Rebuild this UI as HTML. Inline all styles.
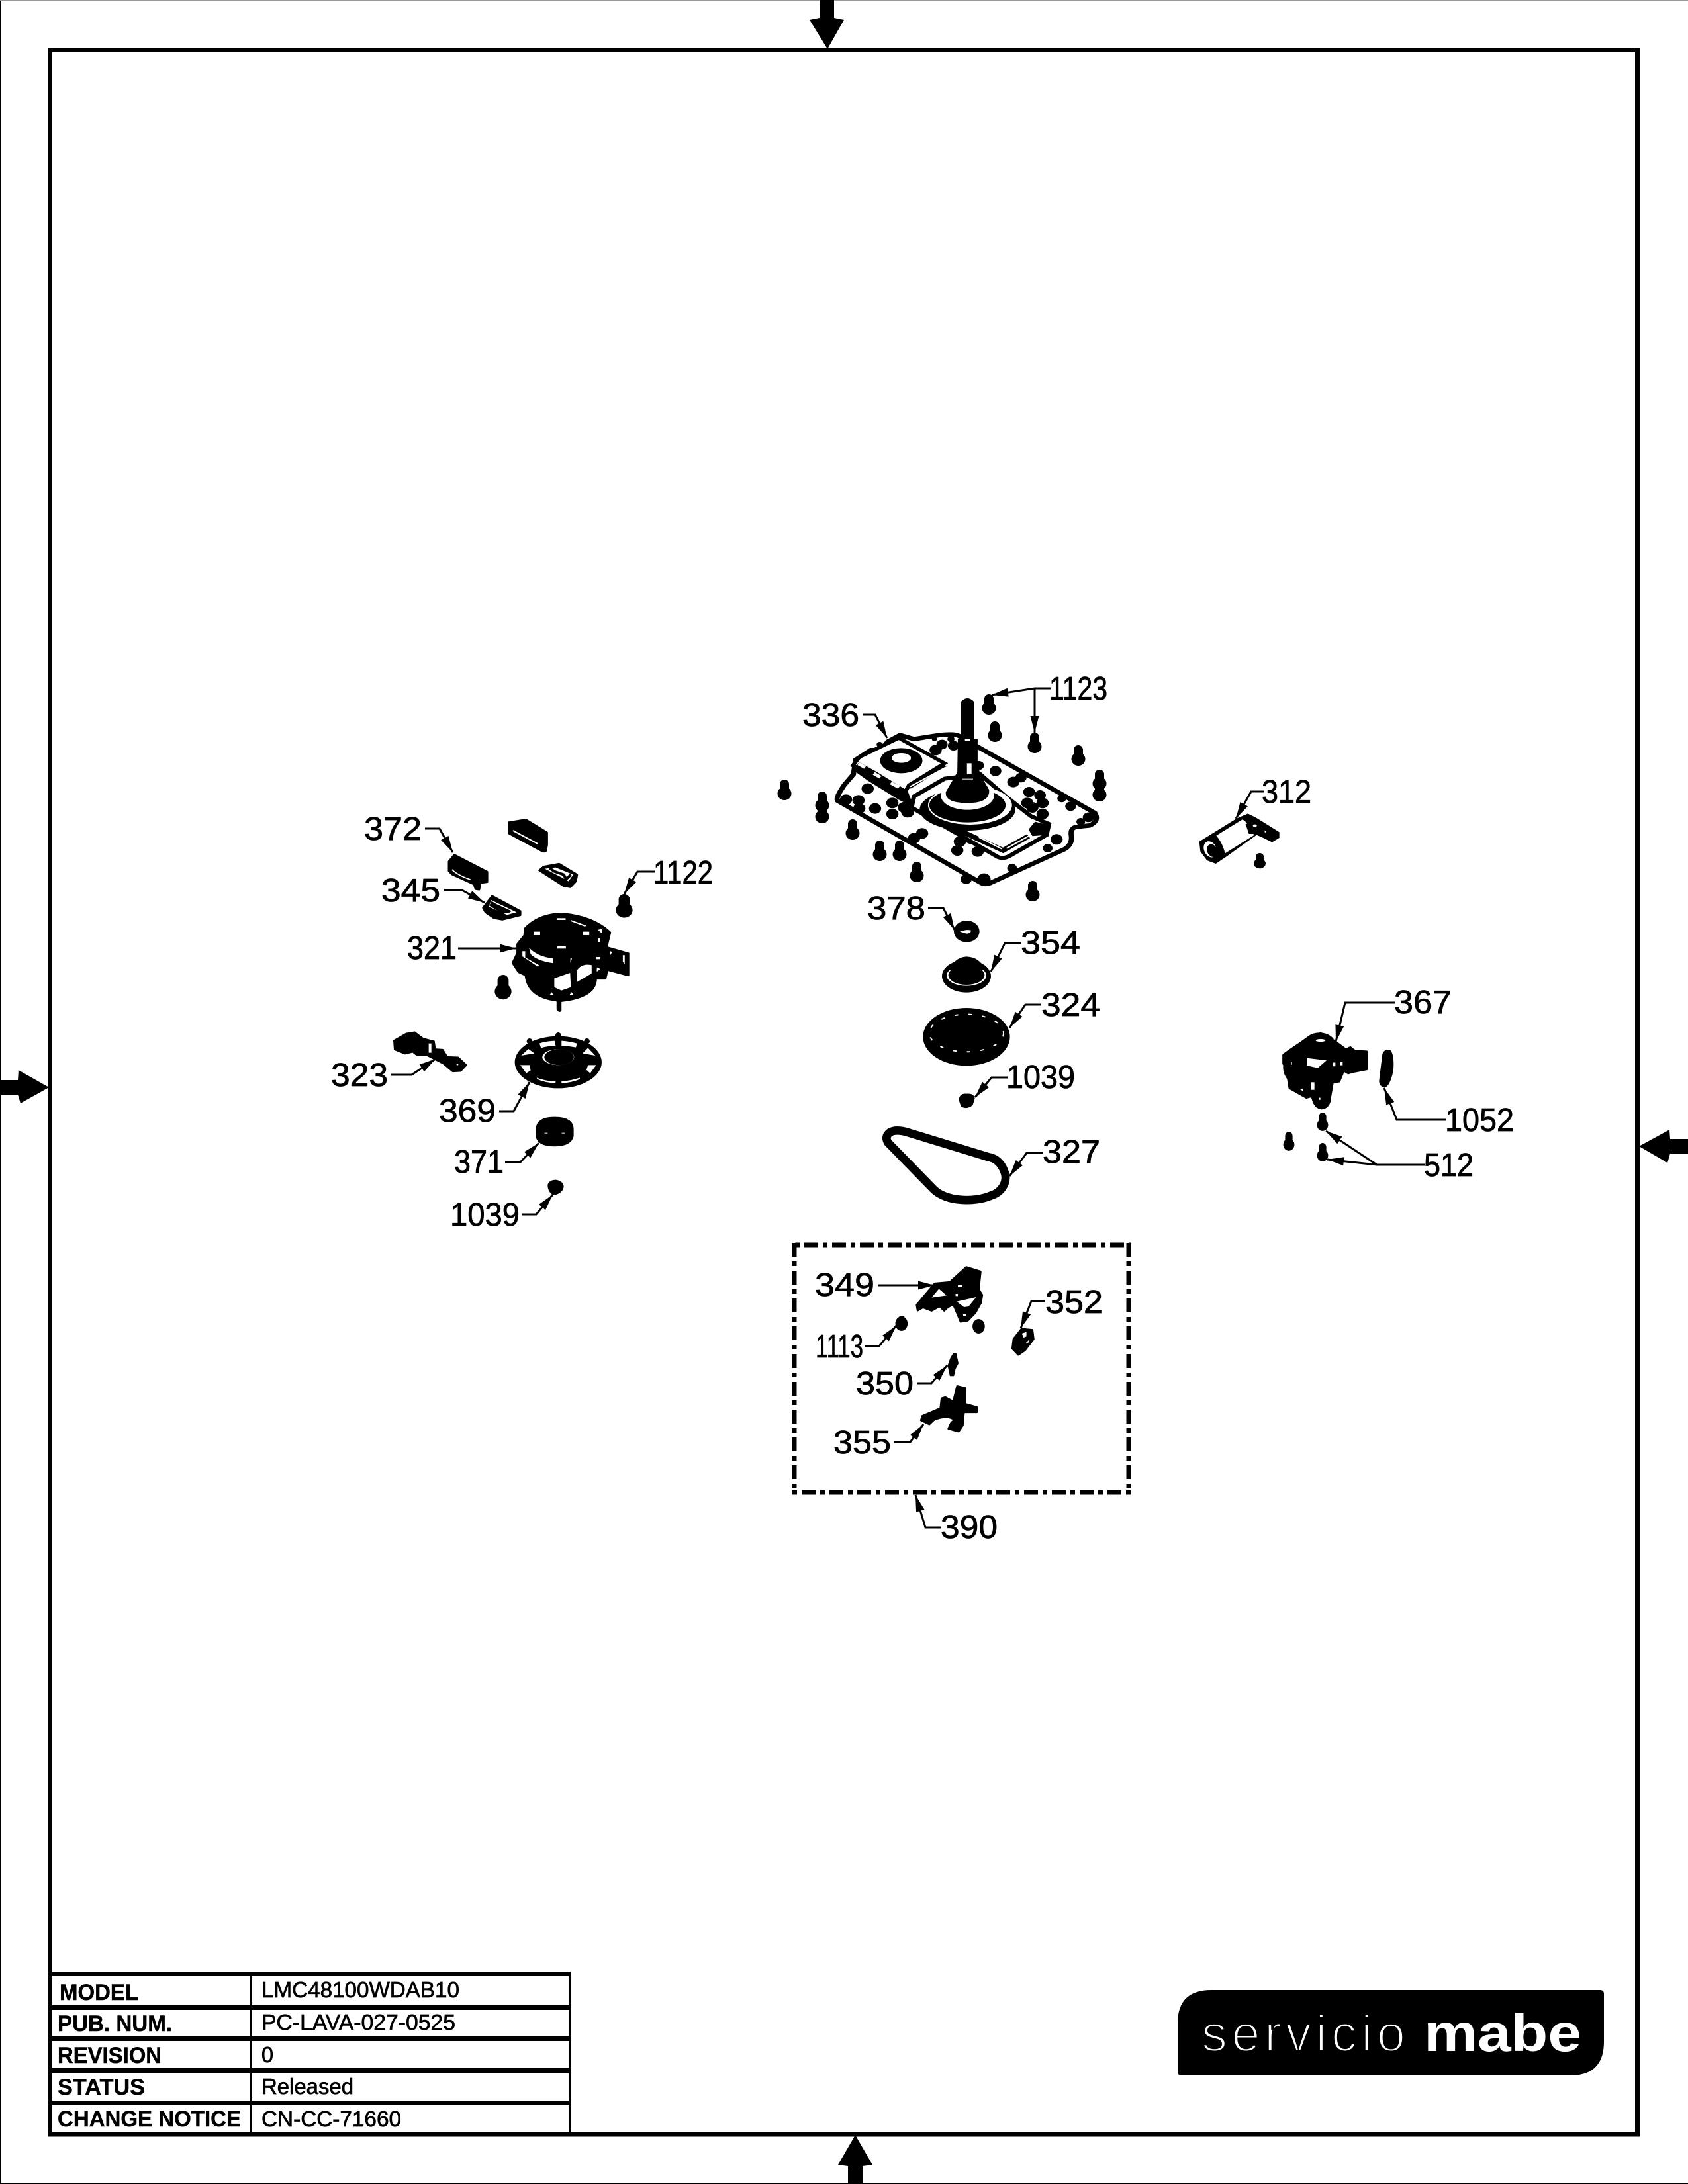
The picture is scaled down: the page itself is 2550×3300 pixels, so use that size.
<!DOCTYPE html>
<html><head><meta charset="utf-8"><style>
html,body{margin:0;padding:0;background:#fff}
svg{display:block}
.n{font-family:"Liberation Sans",sans-serif;font-size:49px;fill:#000;stroke:#000;stroke-width:.8}
.t{font-family:"Liberation Sans",sans-serif;font-size:34px;font-weight:bold;fill:#000;stroke:#000;stroke-width:.5}
.v{font-family:"Liberation Sans",sans-serif;font-size:33px;fill:#000;stroke:#000;stroke-width:.7}
.l{fill:none;stroke:#000;stroke-width:3;marker-end:url(#a)}
.r{stroke:#000;stroke-linejoin:round;stroke-width:9}
</style></head><body>
<svg xmlns="http://www.w3.org/2000/svg" width="2550" height="3300" viewBox="0 0 2550 3300">
<defs>
<marker id="a" viewBox="-26 -8 28 16" refX="0" refY="0" markerWidth="28" markerHeight="16" orient="auto" markerUnits="userSpaceOnUse"><path d="M0 0L-25-6.5V6.5z"/></marker>
<g id="b"><rect x="-7" y="0" width="14" height="22" rx="7"/><ellipse cx="0" cy="21" rx="10.5" ry="10"/></g>
</defs>
<rect width="2550" height="3300" fill="#fff"/>
<rect x="0" y="0" width="1.5" height="3300"/><rect x="0" y="3298.5" width="2550" height="1.5"/><rect x="0" y="0" width="2550" height="1" fill="#999"/>
<rect x="75.5" y="75.5" width="2398" height="3149.5" fill="none" stroke="#000" stroke-width="7"/>
<!-- page arrows -->
<path d="M1238 0H1260V27L1275 30L1250 74L1223 30L1238 27z"/>
<path d="M0 1632H27L28 1617L74 1643L31 1667L27 1654H0z"/>
<path d="M2550 1721H2523L2522 1707L2476 1732L2519 1757L2523 1743H2550z"/>
<path d="M1281 3300V3273L1266 3271L1292 3226L1318 3271L1303 3273V3300z"/>

<!-- main plate: zoom coords -->
<g transform="translate(1150,1000) scale(.3846,.3333)">
<path d="M300 630L860 1000Q880 1015 905 1000L1190 850Q1222 830 1218 790Q1212 752 1240 748L1290 742Q1330 720 1310 685L850 385L775 335Q760 325 700 332L600 350L545 332L497 362L470 400L430 400L370 445L362 510L325 560Q290 620 300 630z" fill="#fff" stroke="#000" stroke-width="20"/>
<g fill="#000">
<circle cx="333" cy="625" r="24"/><circle cx="382" cy="628" r="24"/><circle cx="385" cy="665" r="24"/><circle cx="447" cy="665" r="24"/><circle cx="515" cy="640" r="24"/><circle cx="515" cy="690" r="24"/><circle cx="575" cy="680" r="26"/><circle cx="560" cy="660" r="24"/><circle cx="418" cy="575" r="24"/><circle cx="632" cy="778" r="24"/><circle cx="600" cy="800" r="24"/><circle cx="990" cy="545" r="24"/><circle cx="1020" cy="525" r="22"/><circle cx="920" cy="495" r="23"/><circle cx="855" cy="470" r="20"/><circle cx="1052" cy="590" r="23"/><circle cx="1095" cy="605" r="23"/><circle cx="1105" cy="640" r="24"/><circle cx="1045" cy="640" r="24"/><circle cx="1065" cy="660" r="24"/><circle cx="1105" cy="690" r="24"/><circle cx="1215" cy="655" r="21"/><circle cx="1180" cy="620" r="17"/><circle cx="1255" cy="725" r="17"/><circle cx="1285" cy="705" r="22"/><circle cx="1160" cy="805" r="24"/><circle cx="1125" cy="845" r="19"/><circle cx="985" cy="935" r="19"/><circle cx="875" cy="985" r="26"/><circle cx="805" cy="985" r="22"/><circle cx="770" cy="855" r="24"/><circle cx="780" cy="815" r="24"/><circle cx="825" cy="800" r="26"/><circle cx="850" cy="860" r="24"/><circle cx="710" cy="375" r="22"/><circle cx="755" cy="380" r="22"/><circle cx="685" cy="400" r="24"/><circle cx="680" cy="350" r="10"/><circle cx="745" cy="350" r="14"/>
<circle cx="465" cy="375" r="12"/>
</g>
<!-- upper-left cover -->
<path d="M385 432L540 345L720 460L580 560L565 590L470 530L360 470z" fill="#fff" stroke="#000" stroke-width="16"/>
<path d="M360 490L420 540L540 625L600 660L575 585L455 500L385 455z" fill="#000"/>
<g fill="#fff"><path d="M378 468l8-12 26 17-8 12z"/><path d="M438 512l8-12 26 17-8 12z"/><path d="M505 555l8-12 32 20-8 12z"/></g>
<path d="M720 465L580 565" stroke="#000" stroke-width="24"/>
<path d="M725 478L585 566" stroke="#fff" stroke-width="6"/>
<ellipse cx="550" cy="448" rx="83" ry="57"/>
<ellipse cx="550" cy="436" rx="38" ry="22" fill="#fff"/>
<!-- lower-right cover -->
<path d="M590 660L930 885Q950 895 975 880L1120 785L1130 735L1060 700L960 610L860 510L720 530L600 610z" fill="#fff" stroke="#000" stroke-width="18"/>
<path d="M645 680L770 760L950 855L1050 790" fill="none" stroke="#000" stroke-width="22"/>
<path d="M650 683L770 758M855 795L945 848M965 845L1050 790" stroke="#fff" stroke-width="6" fill="none"/>
<path d="M1050 760L1075 725L1130 740L1120 785L1065 790z"/>
<ellipse cx="810" cy="670" rx="188" ry="95"/>
<ellipse cx="820" cy="650" rx="165" ry="88" fill="#fff"/>
<ellipse cx="810" cy="650" rx="150" ry="78"/>
<ellipse cx="810" cy="605" rx="105" ry="66" fill="#fff"/>
<path d="M785 180Q810 150 835 180V350H850V460L860 510L895 580Q900 640 810 640Q720 640 725 590L770 500L772 350H785z"/>
<rect x="808" y="460" width="18" height="50" fill="#fff"/>
<rect x="800" y="350" width="20" height="10" fill="#fff"/>
<rect x="790" y="530" width="42" height="3" fill="#fff"/>
</g>
<g fill="#000">
<use href="#b" x="1494" y="1049"/><use href="#b" x="1503" y="1090"/><use href="#b" x="1563" y="1107"/><use href="#b" x="1629" y="1126"/>
<use href="#b" x="1661" y="1163"/><use href="#b" x="1661" y="1180"/>
<use href="#b" x="1185" y="1178"/>
<use href="#b" x="1242" y="1196"/><use href="#b" x="1242" y="1213"/>
<use href="#b" x="1288" y="1238"/><use href="#b" x="1329" y="1270"/><use href="#b" x="1359" y="1270"/><use href="#b" x="1385" y="1302"/><use href="#b" x="1560" y="1331"/>
<use href="#b" transform="translate(760,1473) scale(1.2,1.2)"/>
<use href="#b" transform="translate(943,1351) scale(1.2,1.15)"/>
<use href="#b" transform="translate(1903,1289) scale(.85,.75)"/>
<use href="#b" transform="translate(1998,1681) scale(.8,.9)"/>
<use href="#b" transform="translate(1998,1727) scale(.8,.9)"/>
<use href="#b" transform="translate(1947,1710) scale(.8,.93)"/>
</g>

<!-- 372/345/321: zoom 2 -->
<g transform="translate(500,1180) scale(.357,.3333)">
<path class="r" d="M499 365L522 335L661 412L661 458L632 462L627 492L612 490L605 468L512 423L499 408z"/>
<path d="M512 402Q540 430 590 447" stroke="#fff" stroke-width="5" fill="none"/>
<path class="r" d="M754 188L825 176L914 234V290L908 320H897L754 238z"/>
<path d="M770 225L875 285" stroke="#fff" stroke-width="6"/>
<path class="r" d="M882 405L900 389L965 376L1041 425L1036 455L1013 481L985 476z"/>
<path d="M905 398L950 392L1025 425L1005 455L990 445z" fill="#fff"/>
<path d="M925 395L945 410L985 425L995 445L1015 425" stroke="#000" stroke-width="12" fill="none"/>
<path class="r" d="M644 575L682 522L801 590L801 608L725 628L690 621L654 595z"/>
<path d="M678 540L785 595L745 607L668 570z" fill="#fff"/>
<path d="M680 545L670 565L720 598L750 600L765 590L700 558z"/>
<path class="r" d="M820 670Q880 602 980 602Q1110 614 1181 687L1166 754L1258 782V881L1170 856L1161 896H1121Q1121 981 971 998V1041Q965 1045 959 1035V996Q834 981 824 881L794 866L769 825L789 780V740L819 700z"/>
<g fill="#fff">
<path d="M945 895L1012 870L1015 935L975 950L945 935z"/>
<path d="M1040 860Q1060 825 1103 835V873L1040 912z"/>
<path d="M838 755Q870 795 940 805V826Q870 815 845 785z"/>
<path d="M810 772L822 772L822 800L880 835L875 842L810 795z"/>
<rect x="858" y="683" width="27" height="16"/><rect x="1065" y="683" width="28" height="16"/><rect x="958" y="750" width="36" height="10"/>
<rect x="955" y="622" width="38" height="8"/><path d="M1015 630L1080 655L1075 660L1015 636z"/>
<path d="M1130 675L1150 668L1145 690z"/><rect x="1130" y="712" width="10" height="18"/><rect x="1122" y="798" width="18" height="10"/>
<path d="M1125 845L1140 852L1125 865z"/>
<path d="M925 972L933 958L943 972z"/><path d="M1008 972L1018 958L1028 972z"/>
<path d="M1182 772L1182 790L1190 775zM1235 790L1243 790L1243 830L1235 820z"/>
<path d="M1013 805H1020L1013 825z"/>
</g>
</g>

<!-- 323/369/371/1039: zoom 3 -->
<g transform="translate(480,1520) scale(.3333)">
<path d="M342 155L400 122L440 115L480 145L530 158L535 195L490 218L450 228L430 212L395 220L345 200z"/>
<path class="r" d="M480 150L526 162L531 197L566 199L586 232L636 234L672 268L648 294L612 296L572 262L540 245L490 220L450 222z" stroke-width="12"/>
<path d="M503 170H515V212H503z" fill="#fff"/>
<circle cx="633" cy="265" r="4" fill="#fff"/>
<ellipse cx="1090" cy="255" rx="197" ry="118"/>
<circle cx="960" cy="160" r="13"/><circle cx="1090" cy="133" r="13"/><circle cx="1220" cy="160" r="13"/>
<g fill="#fff">
<path d="M1005 170Q1030 160 1075 158L1078 180Q1040 182 1012 190z"/>
<path d="M1105 158Q1140 160 1175 170L1170 188Q1140 182 1105 180z"/>
<path d="M955 195L982 215L922 225z"/>
<path d="M1225 190L1258 225L1200 215z"/>
<path d="M918 268L960 268L965 292L945 305z"/>
<path d="M1218 290L1225 268L1262 268L1235 305z"/>
<path d="M992 325Q1030 340 1078 342V350Q1030 348 995 332z"/>
<path d="M1105 342Q1150 338 1188 325V332Q1150 348 1105 350z"/>
<ellipse cx="1090" cy="232" rx="72" ry="36"/>
</g>
<ellipse cx="1094" cy="232" rx="67" ry="36"/>
<path d="M988 560Q990 503 1073 503Q1160 503 1160 560V590Q1150 637 1073 637Q995 637 988 590z"/>
<g fill="#fff"><rect x="1028" y="575" width="14" height="3"/><rect x="1106" y="575" width="14" height="3"/></g>
<path d="M1042 810Q1050 788 1080 788Q1115 795 1115 820Q1110 850 1070 858Q1042 845 1042 810z"/>
</g>

<!-- 378 354 324 1039 327: zoom 4 -->
<g transform="translate(1300,1340) scale(.3333)">
<ellipse cx="481" cy="202" rx="58" ry="49"/>
<path d="M450 203Q480 192 500 197Q500 212 480 212z" fill="#fff"/>
<ellipse cx="480" cy="405" rx="111" ry="74"/>
<ellipse cx="480" cy="402" rx="90" ry="47" fill="#fff"/>
<ellipse cx="480" cy="400" rx="82" ry="44"/>
<path d="M400 375Q430 318 480 316Q540 318 565 375Z"/>
<ellipse cx="480" cy="680" rx="197" ry="131"/>
<g fill="none" stroke="#fff" stroke-width="6" stroke-dasharray="16 46"><ellipse cx="480" cy="663" rx="168" ry="85"/></g>
<path d="M445 965Q450 935 480 938Q515 935 518 960L508 990Q480 1012 455 995z"/>
<path d="M165 1105C130 1105 105 1130 125 1160L330 1370C390 1430 520 1430 590 1400C640 1385 665 1340 655 1300C640 1250 610 1230 580 1225L220 1115C200 1108 185 1105 165 1105Z" fill="none" stroke="#000" stroke-width="38"/>
</g>

<!-- box: zoom 5 -->
<g fill="none" stroke="#000" stroke-width="7" stroke-dasharray="21 7 7 7">
<line x1="1197" y1="1881" x2="1708" y2="1881" stroke-dashoffset="24"/>
<line x1="1197" y1="2255" x2="1708" y2="2255" stroke-dashoffset="28"/>
<line x1="1200" y1="1878" x2="1200" y2="2258" stroke-dashoffset="0"/>
<line x1="1705" y1="1878" x2="1705" y2="2258" stroke-dashoffset="0"/>
</g>
<g transform="translate(1190,1860) scale(.345,.3333)">
<path class="r" d="M644 238L710 232L782 164L844 184L836 265L851 290L846 325L821 371L788 406L757 411L745 380L725 332L700 346L685 361L665 341L630 361L592 346L569 360L565 335z"/>
<g fill="#fff">
<path d="M662 262L695 292L630 302z"/>
<path d="M740 320L825 300L792 342L772 345z"/>
<rect x="745" y="245" width="20" height="10"/><rect x="735" y="285" width="10" height="10"/>
<rect x="768" y="378" width="12" height="8"/>
</g>
<ellipse cx="498" cy="420" rx="27" ry="33"/><path d="M482 400L490 385H510L515 410z"/>
<ellipse cx="836" cy="432" rx="27" ry="33"/>
<path class="r" d="M1024 444L1071 449L1076 490L1038 541L1010 561L984 533L989 490z"/>
<path d="M1025 465L1045 458L1045 478L1033 483zM1040 510L1060 490L1055 505z" fill="#fff"/>
<path d="M725 553H738L748 600L735 625L728 658H710L700 610L712 575z"/>
<path class="r" d="M742 704L776 712L776 784L828 799V821L771 821L766 881L748 909L704 896L716 870L730 856Q700 831 640 856L620 876L584 858L589 839L669 804L674 759L690 754L725 774z"/>
</g>

<!-- 367 1052: zoom 6 -->
<g transform="translate(1900,1160) scale(.3333,.408)">
<ellipse cx="225" cy="1110" rx="110" ry="78"/>
<ellipse cx="280" cy="1025" rx="72" ry="44"/>
<ellipse cx="290" cy="1225" rx="42" ry="40"/>
<path class="r" d="M116 1064L150 1044L190 1022L230 999L285 984L350 1014L400 1044L420 1036L440 1049L494 1052V1116L430 1126L410 1131L390 1121L370 1161L340 1166L326 1231L290 1261L255 1241L245 1216L220 1221L144 1186L129 1110L116 1096z"/>
<g fill="#fff">
<ellipse cx="285" cy="1010" rx="22" ry="5"/>
<path d="M222 1075L312 1084L272 1112L222 1103z"/>
<rect x="342" y="1092" width="10" height="14"/><rect x="375" y="1090" width="10" height="12"/><rect x="150" y="1090" width="5" height="10"/>
<rect x="242" y="1165" width="15" height="28"/><path d="M190 1190L205 1188L205 1198z"/><rect x="278" y="1222" width="6" height="8"/>
</g>
<path d="M565 1060Q575 1040 600 1045Q620 1060 615 1120Q600 1180 575 1185Q550 1180 550 1160z"/>
</g>

<!-- 312: zoom 9 -->
<g transform="translate(1780,1140) scale(.3333)">
<path d="M95 395L265 290L315 268L350 285L458 352L458 378L425 398L385 378L355 365L215 465L170 495L130 480L100 440z"/>
<path d="M172 368L290 295Q310 300 325 345L345 365L212 448Q200 400 172 368z" fill="#fff"/>
<path d="M305 315L350 310L395 345L425 395L385 378L355 360L320 360z"/>
<ellipse cx="347" cy="323" rx="9" ry="6" fill="#fff"/><path d="M390 345h8l-4 12z" fill="#fff"/>
<ellipse cx="145" cy="430" rx="28" ry="38" fill="#fff" transform="rotate(-25 145 430)"/>
<ellipse cx="154" cy="436" rx="23" ry="30" transform="rotate(-25 154 436)"/>
</g>

<!-- leaders -->
<polyline class="l" points="1587,1040 1563,1040 1498,1050"/>
<polyline class="l" points="1563,1040 1563,1107"/>
<polyline class="l" points="1303,1080 1322,1080 1340,1115"/>
<polyline class="l" points="1402,1372 1425,1372 1442,1405"/>
<polyline class="l" points="1543,1425 1518,1425 1497,1468"/>
<polyline class="l" points="1573,1518 1549,1518 1525,1553"/>
<polyline class="l" points="1522,1628 1498,1628 1473,1658"/>
<polyline class="l" points="1575,1742 1551,1742 1525,1777"/>
<polyline class="l" points="642,1252 664,1252 684,1288"/>
<polyline class="l" points="671,1345 698,1345 732,1364"/>
<polyline class="l" points="989,1317 963,1317 943,1351"/>
<polyline class="l" points="692,1433 780,1433"/>
<polyline class="l" points="591,1624 622,1624 658,1600"/>
<polyline class="l" points="754,1679 776,1679 800,1635"/>
<polyline class="l" points="763,1756 786,1756 814,1727"/>
<polyline class="l" points="788,1835 810,1835 835,1805"/>
<polyline class="l" points="1326,1942 1412,1942"/>
<polyline class="l" points="1579,1966 1558,1966 1542,2007"/>
<polyline class="l" points="1307,2034 1328,2034 1354,2003"/>
<polyline class="l" points="1385,2090 1407,2090 1431,2063"/>
<polyline class="l" points="1351,2179 1375,2179 1395,2152"/>
<polyline class="l" points="1422,2308 1398,2308 1383,2259"/>
<polyline class="l" points="2107,1515 2032,1515 2018,1574"/>
<polyline class="l" points="2185,1692 2110,1692 2091,1644"/>
<polyline class="l" points="2153,1760 2080,1760 2003,1709"/>
<polyline class="l" points="2080,1760 2005,1752"/>
<polyline class="l" points="1909,1196 1890,1196 1867,1237"/>

<!-- labels -->
<text class="n" x="1585" y="1057" textLength="88" lengthAdjust="spacingAndGlyphs">1123</text>
<text class="n" x="1212" y="1097" textLength="86" lengthAdjust="spacingAndGlyphs">336</text>
<text class="n" x="1906" y="1213" textLength="75" lengthAdjust="spacingAndGlyphs">312</text>
<text class="n" x="550" y="1269" textLength="87" lengthAdjust="spacingAndGlyphs">372</text>
<text class="n" x="987" y="1335" textLength="90" lengthAdjust="spacingAndGlyphs">1122</text>
<text class="n" x="576" y="1362" textLength="89" lengthAdjust="spacingAndGlyphs">345</text>
<text class="n" x="1310" y="1389" textLength="88" lengthAdjust="spacingAndGlyphs">378</text>
<text class="n" x="1542" y="1441" textLength="90" lengthAdjust="spacingAndGlyphs">354</text>
<text class="n" x="615" y="1449" textLength="75" lengthAdjust="spacingAndGlyphs">321</text>
<text class="n" x="2106" y="1531" textLength="87" lengthAdjust="spacingAndGlyphs">367</text>
<text class="n" x="1573" y="1535" textLength="89" lengthAdjust="spacingAndGlyphs">324</text>
<text class="n" x="500" y="1641" textLength="86" lengthAdjust="spacingAndGlyphs">323</text>
<text class="n" x="1520" y="1644" textLength="104" lengthAdjust="spacingAndGlyphs">1039</text>
<text class="n" x="663" y="1695" textLength="86" lengthAdjust="spacingAndGlyphs">369</text>
<text class="n" x="2183" y="1709" textLength="104" lengthAdjust="spacingAndGlyphs">1052</text>
<text class="n" x="1575" y="1757" textLength="87" lengthAdjust="spacingAndGlyphs">327</text>
<text class="n" x="686" y="1772" textLength="75" lengthAdjust="spacingAndGlyphs">371</text>
<text class="n" x="2151" y="1777" textLength="75" lengthAdjust="spacingAndGlyphs">512</text>
<text class="n" x="680" y="1852" textLength="105" lengthAdjust="spacingAndGlyphs">1039</text>
<text class="n" x="1231" y="1958" textLength="90" lengthAdjust="spacingAndGlyphs">349</text>
<text class="n" x="1579" y="1984" textLength="87" lengthAdjust="spacingAndGlyphs">352</text>
<text class="n" x="1232" y="2051" textLength="72" lengthAdjust="spacingAndGlyphs">1113</text>
<text class="n" x="1293" y="2107" textLength="87" lengthAdjust="spacingAndGlyphs">350</text>
<text class="n" x="1259" y="2196" textLength="87" lengthAdjust="spacingAndGlyphs">355</text>
<text class="n" x="1421" y="2324" textLength="86" lengthAdjust="spacingAndGlyphs">390</text>

<!-- title table -->
<g fill="#000">
<rect x="72" y="2979" width="790" height="6"/>
<rect x="72" y="3030" width="790" height="7"/>
<rect x="72" y="3077" width="790" height="7"/>
<rect x="72" y="3125" width="790" height="7"/>
<rect x="72" y="3174" width="790" height="7"/>
<rect x="378" y="2982" width="3" height="242"/>
<rect x="860" y="2982" width="2" height="242"/>
</g>
<text class="t" x="90" y="3022" textLength="119" lengthAdjust="spacingAndGlyphs">MODEL</text>
<text class="t" x="87" y="3069" textLength="173" lengthAdjust="spacingAndGlyphs">PUB. NUM.</text>
<text class="t" x="87" y="3117" textLength="157" lengthAdjust="spacingAndGlyphs">REVISION</text>
<text class="t" x="87" y="3165" textLength="132" lengthAdjust="spacingAndGlyphs">STATUS</text>
<text class="t" x="87" y="3213" textLength="277" lengthAdjust="spacingAndGlyphs">CHANGE NOTICE</text>
<text class="v" x="395" y="3018" textLength="299" lengthAdjust="spacingAndGlyphs">LMC48100WDAB10</text>
<text class="v" x="395" y="3067" textLength="293" lengthAdjust="spacingAndGlyphs">PC-LAVA-027-0525</text>
<text class="v" x="395" y="3116" textLength="18" lengthAdjust="spacingAndGlyphs">0</text>
<text class="v" x="395" y="3164" textLength="139" lengthAdjust="spacingAndGlyphs">Released</text>
<text class="v" x="395" y="3213" textLength="211" lengthAdjust="spacingAndGlyphs">CN-CC-71660</text>

<!-- logo -->
<path d="M1785 3007H2417Q2423 3007 2423 3013V3085Q2423 3136 2372 3136H1785Q1779 3136 1779 3130V3057Q1779 3007 1830 3007z"/>
<text x="1815" y="3099" font-family="'Liberation Sans',sans-serif" font-size="78" fill="#fff" stroke="#000" stroke-width="3" paint-order="fill stroke" textLength="308" lengthAdjust="spacing">servicio</text>
<text x="2151" y="3099" font-family="'Liberation Sans',sans-serif" font-size="80" font-weight="bold" fill="#fff" textLength="238" lengthAdjust="spacingAndGlyphs">mabe</text>
</svg>
</body></html>
